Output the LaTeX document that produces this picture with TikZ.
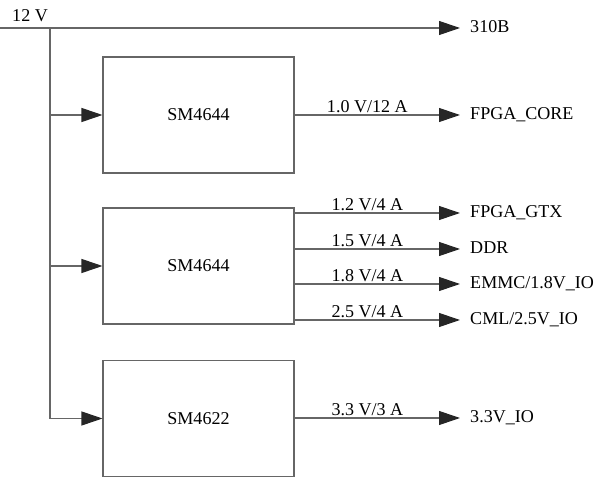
\documentclass[tikz,border=0pt]{standalone}
\usepackage{fontspec}
\setmainfont{Liberation Serif}
\usetikzlibrary{arrows.meta}
\tikzset{
  rail/.style={line width=0.9pt, draw=black!60},
  feed/.style={rail, -{Triangle[length=0.63cm, width=0.42cm, color=black!85]}},
  regbox/.style={draw=black!60, line width=0.9pt, minimum width=5.73cm, minimum height=3.48cm, inner sep=0pt},
  sink/.style={anchor=west, inner xsep=0.3cm, inner ysep=0pt, text height=0.36cm, text depth=0.06cm},
  ratelabel/.style={anchor=base, pos=0.44, yshift=0.06cm, inner sep=0pt},
}

\begin{document}
\begin{tikzpicture}[font=\fontsize{15.4}{18}\selectfont]
\useasboundingbox (0,0) rectangle (18.03,14.34);
% input rail
\coordinate (vin) at (0,13.5);
\coordinate (tap) at (1.5,13.5);
\node[anchor=base west, inner sep=0pt] (lbl12) at (0.36,13.68) {12 V};
% regulators
\node[regbox] (ic1) at (5.955,10.89) {SM4644};
\node[regbox] (ic2) at (5.955,6.36) {SM4644};
\node[regbox] (ic3) at (5.955,1.785) {SM4622};
% loads
\node[sink] (t310) at (13.8,13.5) {310B};
\node[sink] (core) at (13.8,10.89) {FPGA\_CORE};
\node[sink] (gtx) at (13.8,7.95) {FPGA\_GTX};
\node[sink] (ddr) at (13.8,6.87) {DDR};
\node[sink] (emmc) at (13.8,5.82) {EMMC/1.8V\_IO};
\node[sink] (cml) at (13.8,4.74) {CML/2.5V\_IO};
\node[sink] (io33) at (13.8,1.8) {3.3V\_IO};
% distribution
\draw[feed] (vin) -- (t310.west);
\draw[feed] (tap) |- (ic3.west);
\draw[feed] (tap |- ic1.west) -- (ic1.west);
\draw[feed] (tap |- ic2.west) -- (ic2.west);
% outputs
\draw[feed] (ic1.east) -- node[ratelabel] {1.0 V/12 A} (core.west);
\draw[feed] (ic2.east |- gtx.west) -- node[ratelabel] {1.2 V/4 A} (gtx.west);
\draw[feed] (ic2.east |- ddr.west) -- node[ratelabel] {1.5 V/4 A} (ddr.west);
\draw[feed] (ic2.east |- emmc.west) -- node[ratelabel] {1.8 V/4 A} (emmc.west);
\draw[feed] (ic2.east |- cml.west) -- node[ratelabel] {2.5 V/4 A} (cml.west);
\draw[feed] (ic3.east |- io33.west) -- node[ratelabel] {3.3 V/3 A} (io33.west);
\end{tikzpicture}
\end{document}
